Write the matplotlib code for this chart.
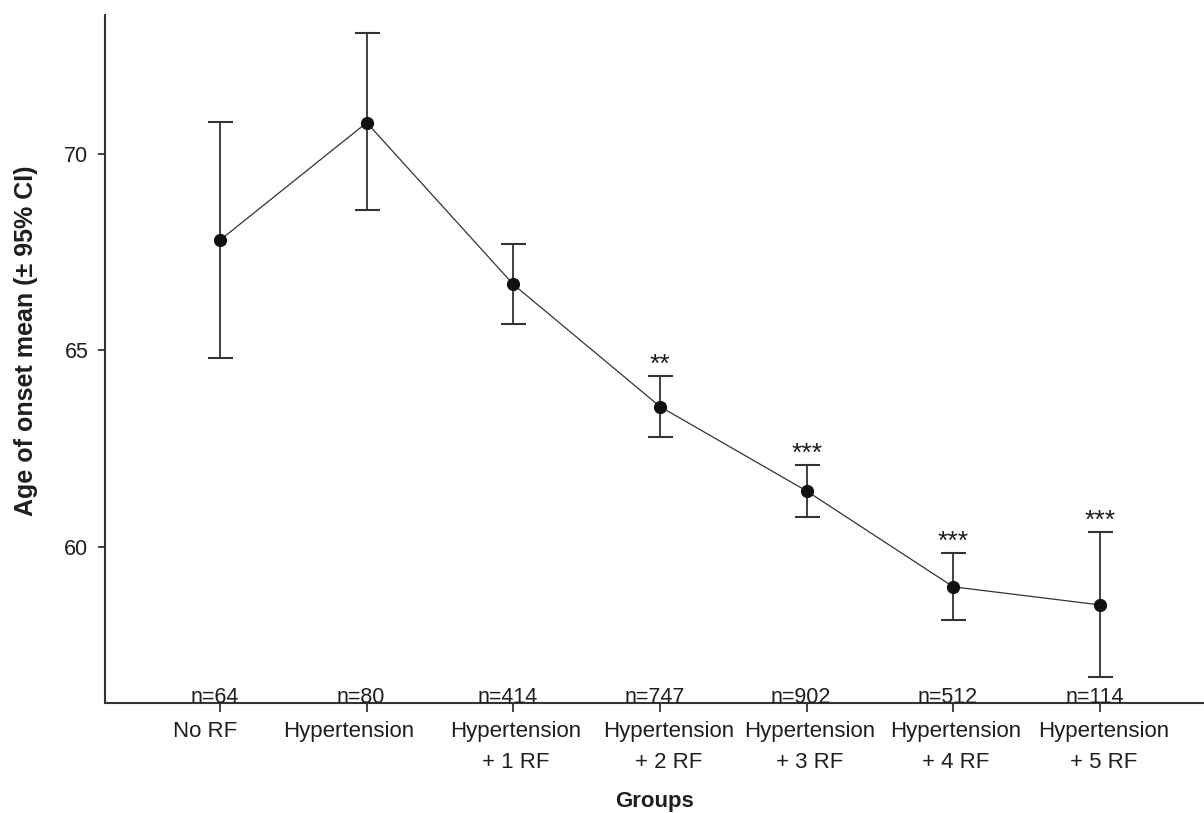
import matplotlib
matplotlib.use("Agg")
import matplotlib.pyplot as plt
from matplotlib.transforms import ScaledTranslation

plt.rcParams['font.family'] = ['Liberation Sans', 'DejaVu Sans']

# donnees
groupes = ["No RF", "Hypertension", "Hypertension\n+ 1 RF", "Hypertension\n+ 2 RF",
           "Hypertension\n+ 3 RF", "Hypertension\n+ 4 RF", "Hypertension\n+ 5 RF"]
effectifs = [64, 80, 414, 747, 902, 512, 114]
moyennes = [67.81, 70.80, 66.68, 63.57, 61.42, 58.98, 58.52]
ic_haut = [70.81, 73.07, 67.70, 64.34, 62.09, 59.83, 60.38]
ic_bas = [64.80, 68.57, 65.66, 62.80, 60.77, 58.13, 56.68]
signif = ["", "", "", "**", "***", "***", "***"]

# decalage horizontal des etiquettes (en points), comme sur l'original
decalages = [-11, -13, 2, 6, 2, 2, 3]

COUL = '#1e1e1e'

fig = plt.figure(figsize=(12.04, 8.13), dpi=100)
ax = fig.add_axes([0.0872, 0.1357, 0.9128, 0.8458])

x = list(range(len(groupes)))
err_bas = [m - b for m, b in zip(moyennes, ic_bas)]
err_haut = [h - m for m, h in zip(moyennes, ic_haut)]

ax.errorbar(x, moyennes, yerr=[err_bas, err_haut], fmt='none', ecolor='#333333',
            elinewidth=1.3, capsize=9, capthick=1.5, zorder=2)
ax.plot(x, moyennes, color='#333333', lw=0.9, zorder=3)
ax.plot(x, moyennes, 'o', color='#111111', ms=8.5, zorder=4)

for i in x:
    if signif[i]:
        ax.annotate(signif[i], (i, ic_haut[i]), xytext=(0, 3), textcoords='offset points',
                    ha='center', va='baseline', fontsize=19, color=COUL)
    ax.annotate("n=%d" % effectifs[i], (i, 0), xycoords=('data', 'axes fraction'),
                xytext=(-4, 0), textcoords='offset points',
                ha='center', va='baseline', fontsize=15.5, color=COUL)

ax.set_xlim(-0.785, 6.71)
ax.set_ylim(56.03, 73.54)
ax.set_yticks([60, 65, 70])
ax.set_xticks(x)
ax.set_xticklabels(groupes, fontsize=16, color=COUL, linespacing=1.6)
ax.tick_params(axis='y', labelsize=15.5, labelcolor=COUL, length=5, width=1.3, color='#333333', pad=7)
ax.tick_params(axis='x', length=6.5, width=1.3, color='#333333', pad=7)

for lab, d in zip(ax.get_xticklabels(), decalages):
    lab.set_transform(lab.get_transform() + ScaledTranslation(d / 72, 0, fig.dpi_scale_trans))

for s in ['top', 'right']:
    ax.spines[s].set_visible(False)
for s in ['left', 'bottom']:
    ax.spines[s].set_linewidth(1.5)
    ax.spines[s].set_color('#333333')

ax.set_xlabel("Groups", fontsize=16, fontweight='bold', color=COUL, labelpad=13)
ax.set_ylabel("Age of onset mean (± 95% CI)", fontsize=18, fontweight='bold', color=COUL)
ax.yaxis.set_label_coords(-0.061, 0.527)

fig.savefig("out.png", dpi=100)
